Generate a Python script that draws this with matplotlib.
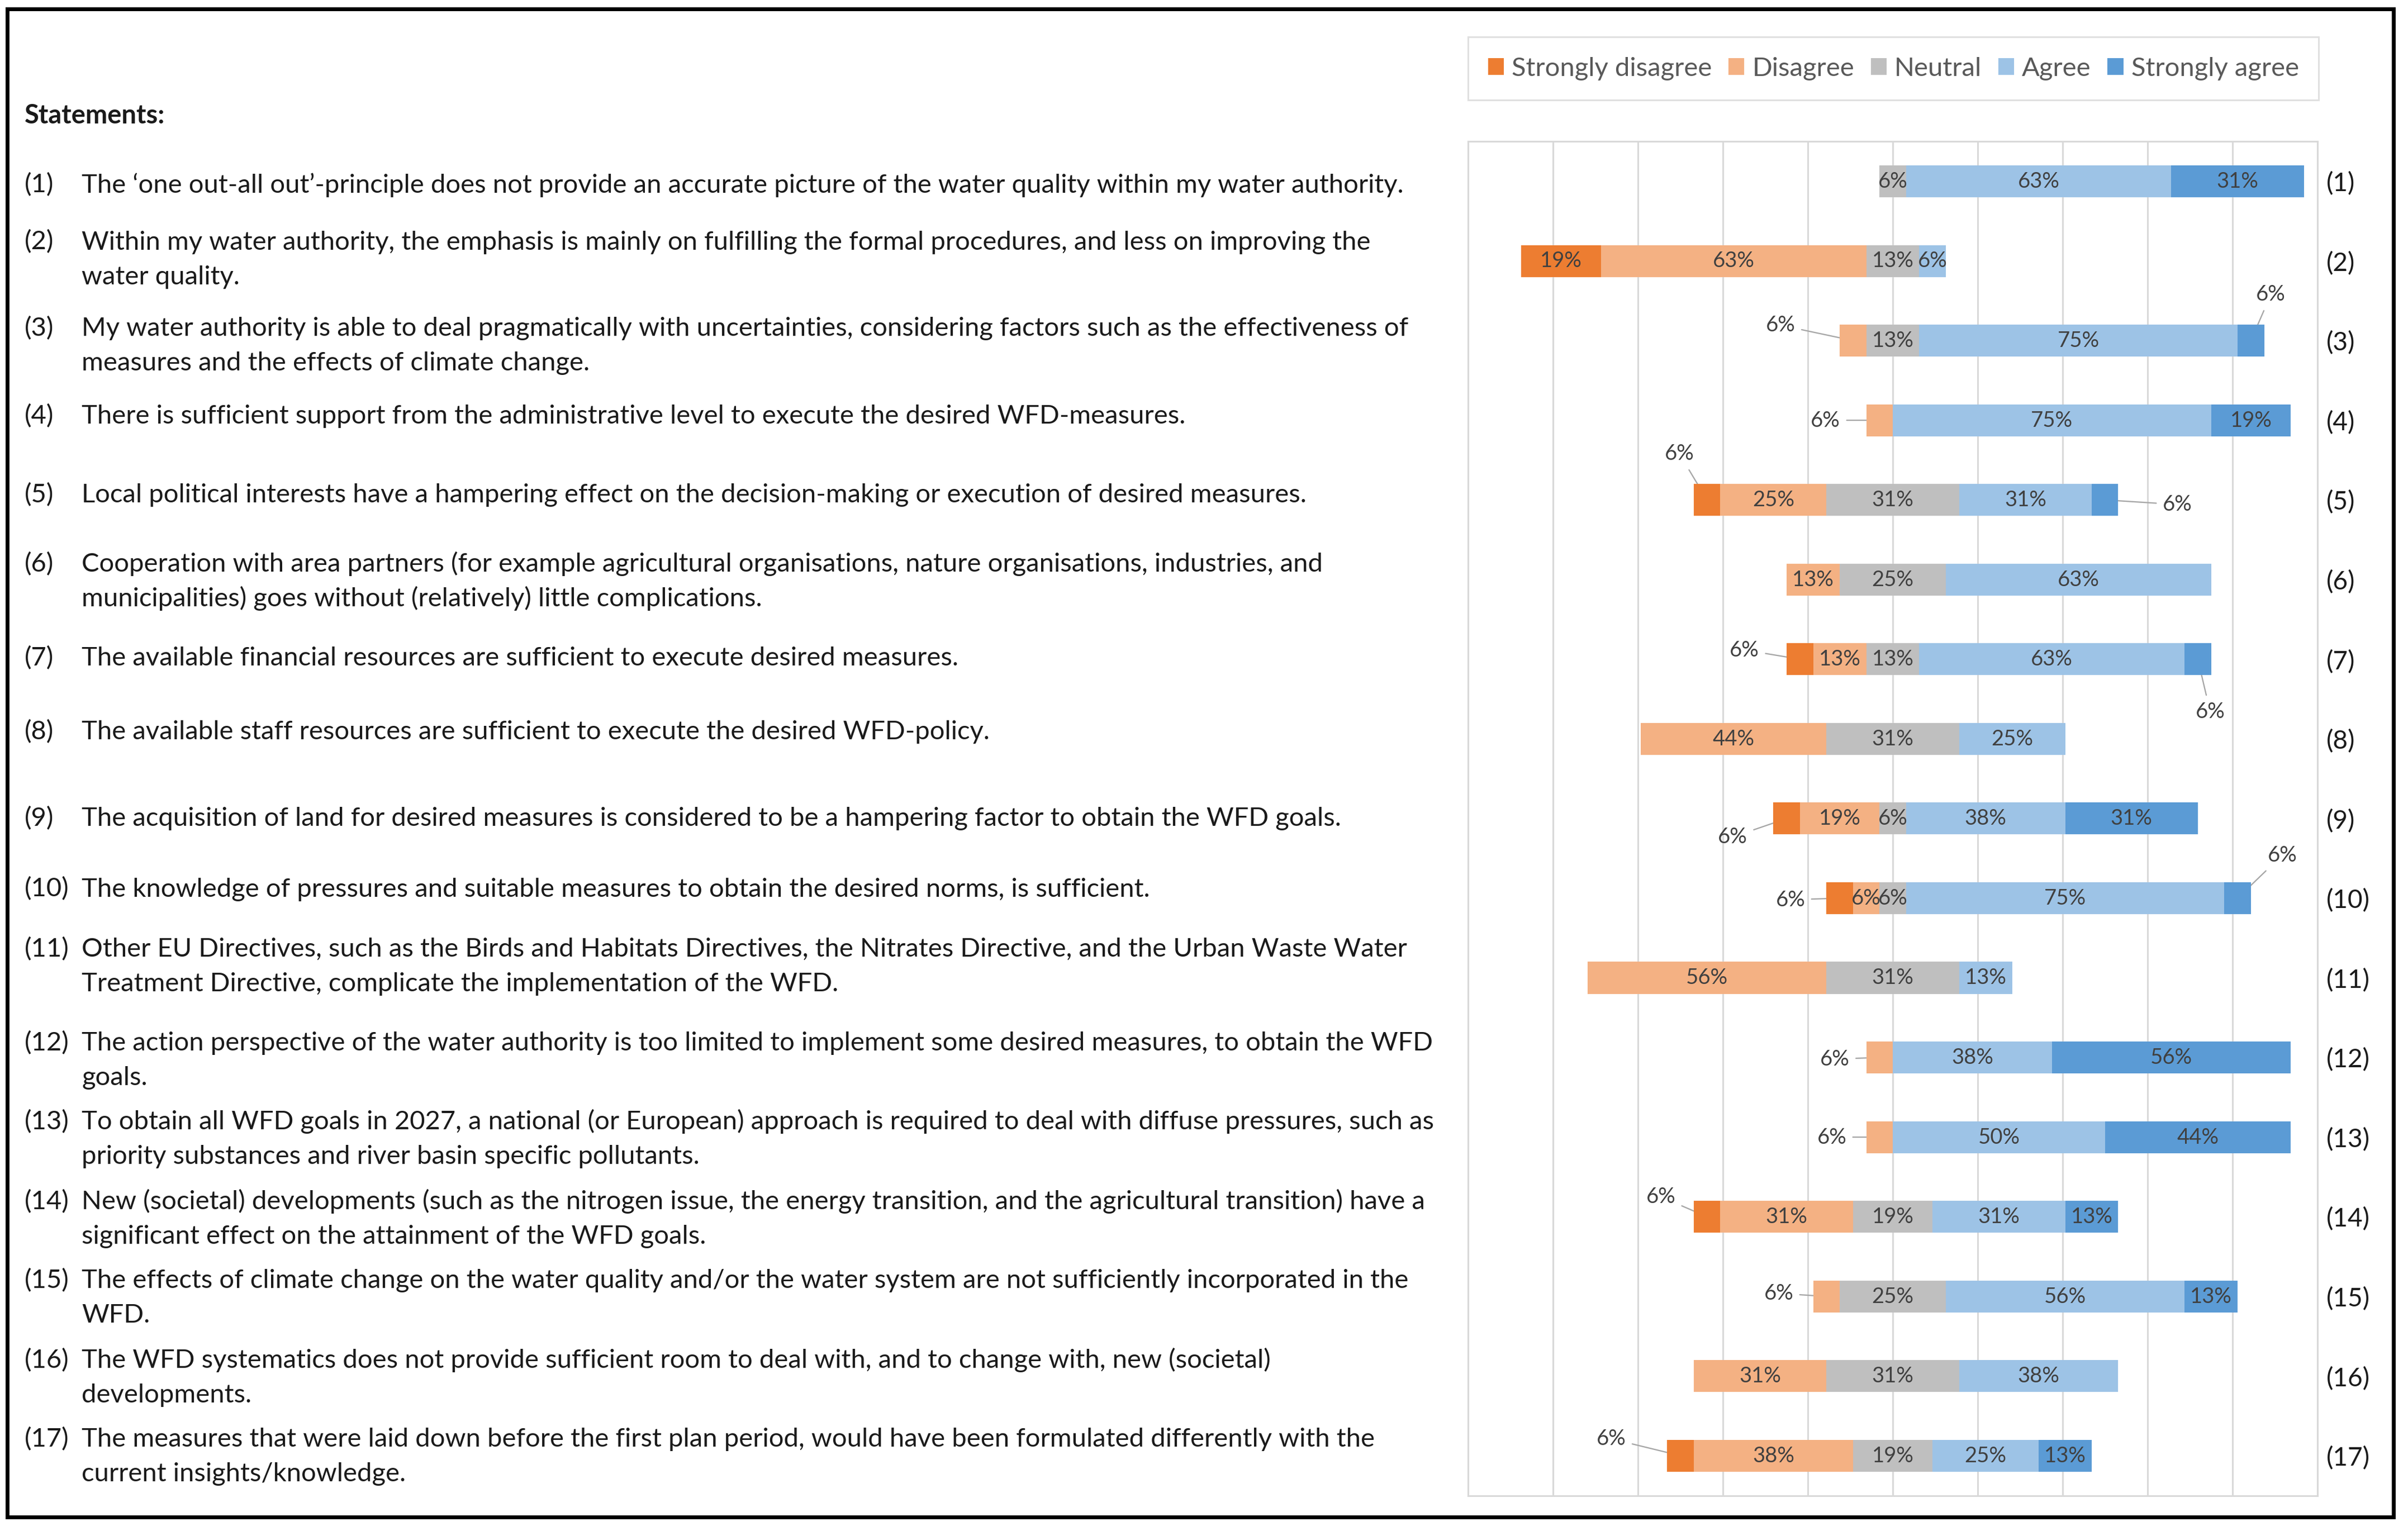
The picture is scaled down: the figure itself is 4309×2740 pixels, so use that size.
import matplotlib
matplotlib.use('Agg')
import matplotlib.pyplot as plt
from matplotlib.patches import Patch, Rectangle

plt.rcParams['font.family'] = ['Lato', 'DejaVu Sans']

# statements (left text block)
statements = [
    "The \u2018one out-all out\u2019-principle does not provide an accurate picture of the water quality within my water authority.",
    "Within my water authority, the emphasis is mainly on fulfilling the formal procedures, and less on improving the\nwater quality.",
    "My water authority is able to deal pragmatically with uncertainties, considering factors such as the effectiveness of\nmeasures and the effects of climate change.",
    "There is sufficient support from the administrative level to execute the desired WFD-measures.",
    "Local political interests have a hampering effect on the decision-making or execution of desired measures.",
    "Cooperation with area partners (for example agricultural organisations, nature organisations, industries, and\nmunicipalities) goes without (relatively) little complications.",
    "The available financial resources are sufficient to execute desired measures.",
    "The available staff resources are sufficient to execute the desired WFD-policy.",
    "The acquisition of land for desired measures is considered to be a hampering factor to obtain the WFD goals.",
    "The knowledge of pressures and suitable measures to obtain the desired norms, is sufficient.",
    "Other EU Directives, such as the Birds and Habitats Directives, the Nitrates Directive, and the Urban Waste Water\nTreatment Directive, complicate the implementation of the WFD.",
    "The action perspective of the water authority is too limited to implement some desired measures, to obtain the WFD\ngoals.",
    "To obtain all WFD goals in 2027, a national (or European) approach is required to deal with diffuse pressures, such as\npriority substances and river basin specific pollutants.",
    "New (societal) developments (such as the nitrogen issue, the energy transition, and the agricultural transition) have a\nsignificant effect on the attainment of the WFD goals.",
    "The effects of climate change on the water quality and/or the water system are not sufficiently incorporated in the\nWFD.",
    "The WFD systematics does not provide sufficient room to deal with, and to change with, new (societal)\ndevelopments.",
    "The measures that were laid down before the first plan period, would have been formulated differently with the\ncurrent insights/knowledge.",
]

categories = ['Strongly disagree', 'Disagree', 'Neutral', 'Agree', 'Strongly agree']

# percentages per statement (16 respondents)
strongly_disagree = [0, 18.75, 0, 0, 6.25, 0, 6.25, 0, 6.25, 6.25, 0, 0, 0, 6.25, 0, 0, 6.25]
disagree = [0, 62.5, 6.25, 6.25, 25, 12.5, 12.5, 43.75, 18.75, 6.25, 56.25, 6.25, 6.25, 31.25, 6.25, 31.25, 37.5]
neutral = [6.25, 12.5, 12.5, 0, 31.25, 25, 12.5, 31.25, 6.25, 6.25, 31.25, 0, 0, 18.75, 25, 31.25, 18.75]
agree = [62.5, 6.25, 75, 75, 31.25, 62.5, 62.5, 25, 37.5, 75, 12.5, 37.5, 50, 31.25, 56.25, 37.5, 25]
strongly_agree = [31.25, 0, 6.25, 18.75, 6.25, 0, 6.25, 0, 31.25, 6.25, 0, 56.25, 43.75, 12.5, 12.5, 0, 12.5]

colors = ['#ED7D31', '#F4B183', '#BFBFBF', '#9DC3E6', '#5B9BD5']

# labels placed outside the bar: (row, category) -> offset in px (dx, dy down)
callouts = {
    (2, 1): (-47, -10), (2, 4): (13, -30),
    (3, 1): (-35, 0),
    (4, 0): (-18, -30), (4, 4): (47, 3),
    (6, 0): (-36, -6), (6, 4): (8, 34),
    (8, 0): (-35, 12),
    (9, 0): (-32, 1), (9, 4): (29, -28),
    (11, 1): (-29, 1), (12, 1): (-31, 0),
    (13, 0): (-30, -13),
    (14, 1): (-31, -2),
    (16, 0): (-45, -11),
}

# layout helpers (reference pixel grid 1563 x 994)
W, H = 1563, 994
def fx(px):
    return px / W
def fy(py):
    return 1 - py / H

PT = 0.72  # points per reference pixel
text_y = [120, 157, 213, 270, 321, 366, 427, 475, 531, 577, 616, 677, 728, 780, 831, 883, 934]
FS = 12.3      # statements / legend
FS_LAB = 10    # data labels
txt_col = '#1a1a1a'
lab_col = '#404040'

fig = plt.figure(figsize=(15.63, 9.94), dpi=100)
fig.patch.set_facecolor('white')

# text block
fig.text(fx(16), fy(75 + 5), 'Statements:', fontsize=FS, fontweight='bold',
         color=txt_col, va='baseline', ha='left')
for i, s in enumerate(statements):
    y0 = text_y[i]
    fig.text(fx(16), fy(y0 + 5), f'({i + 1})', fontsize=FS, color=txt_col,
             va='baseline', ha='left')
    for j, line in enumerate(s.split('\n')):
        fig.text(fx(53), fy(y0 + 22.5 * j + 5), line, fontsize=FS, color=txt_col,
                 va='baseline', ha='left')

# chart
ax = fig.add_axes([fx(953), fy(971), (1504 - 953) / W, (971 - 92) / H])
series = [strongly_disagree, disagree, neutral, agree, strongly_agree]
rows = list(range(len(statements)))
left = [-(sd + d + n / 2) for sd, d, n in zip(strongly_disagree, disagree, neutral)]

for k, vals in enumerate(series):
    ax.barh(rows, vals, left=left, height=0.4, color=colors[k],
            label=categories[k], zorder=3)
    for i, v in enumerate(vals):
        if v == 0:
            continue
        cx = left[i] + v / 2
        lab = f'{int(v + 0.5)}%'
        if (i, k) in callouts:
            dx, dy = callouts[(i, k)]
            ax.annotate(lab, xy=(cx, i), xytext=(dx * PT, -dy * PT),
                        textcoords='offset points', ha='center', va='center',
                        fontsize=FS_LAB, color=lab_col, zorder=2,
                        arrowprops=dict(arrowstyle='-', color='#A6A6A6', lw=0.6,
                                        shrinkA=1, shrinkB=0))
        else:
            ax.text(cx, i, lab, ha='center', va='center', fontsize=FS_LAB,
                    color=lab_col, zorder=4)
    left = [l + v for l, v in zip(left, vals)]

ax.set_xlim(-100, 100)
ax.set_ylim(16.5, -0.5)
ax.set_xticks(range(-100, 101, 20))
ax.set_xticklabels([])
ax.tick_params(axis='x', length=0)
ax.grid(axis='x', color='#D9D9D9', lw=0.8, zorder=0)
ax.set_axisbelow(True)
for sp in ax.spines.values():
    sp.set_color('#D9D9D9')
    sp.set_linewidth(0.8)

ax.yaxis.tick_right()
ax.set_yticks(rows)
ax.set_yticklabels([f'({i + 1})' for i in rows])
ax.tick_params(axis='y', length=0, pad=4.3, labelsize=12, labelcolor=txt_col)

# legend
handles = [Patch(facecolor=c, edgecolor='none') for c in colors]
leg = ax.legend(handles, categories, loc='center', ncol=5, mode='expand',
                bbox_to_anchor=(fx(953), fy(66), (1505 - 953) / W, 43 / H),
                bbox_transform=fig.transFigure, frameon=True, fancybox=False,
                edgecolor='#D9D9D9', borderpad=0.75, borderaxespad=0,
                handlelength=0.6, handleheight=0.6, handletextpad=0.3,
                fontsize=FS, labelcolor='#595959')
leg.get_frame().set_linewidth(0.8)

# outer frame
fig.add_artist(Rectangle((fx(4.8), fy(985)), (1553.5 - 4.8) / W, (985 - 6) / H,
                         transform=fig.transFigure, fill=False, lw=1.8,
                         ec='black'))

fig.savefig('out.png', dpi=275.7, facecolor='white')
